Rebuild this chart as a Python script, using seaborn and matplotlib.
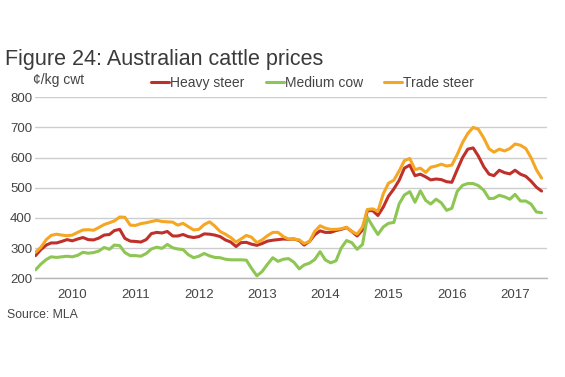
import pandas as pd
import matplotlib
matplotlib.use("Agg")
import matplotlib.pyplot as plt
import seaborn as sns

sns.set_theme(style="white")
plt.rcParams["font.family"] = ["Liberation Sans", "DejaVu Sans"]

# monthly prices, c/kg cwt
months = pd.date_range("2009-12-01", periods=97, freq="MS")
heavy_steer = [275, 295, 310, 317, 317, 322, 328, 324, 330, 335,
               328, 327, 333, 343, 345, 358, 362, 332, 323, 322,
               320, 328, 348, 352, 350, 355, 340, 340, 345, 338,
               335, 338, 347, 346, 343, 338, 327, 320, 305, 318,
               319, 313, 309, 315, 323, 326, 328, 330, 329, 330,
               325, 310, 322, 344, 357, 352, 352, 358, 362, 368,
               355, 340, 360, 424, 424, 408, 436, 472, 496, 525,
               565, 575, 540, 545, 536, 526, 529, 527, 520, 518,
               560, 600, 628, 632, 605, 570, 545, 540, 558, 550,
               546, 558, 545, 538, 522, 502, 489]
medium_cow = [228, 247, 262, 271, 269, 271, 273, 271, 276, 286,
              283, 285, 290, 302, 296, 310, 308, 285, 275, 275,
              273, 282, 297, 303, 299, 312, 301, 297, 295, 278,
              268, 273, 282, 274, 269, 268, 263, 261, 261, 261,
              260, 233, 208, 222, 246, 268, 256, 263, 265, 253,
              231, 244, 250, 262, 288, 261, 251, 258, 300, 325,
              318, 296, 312, 402, 372, 345, 370, 382, 385, 447,
              476, 487, 452, 490, 458, 446, 462, 450, 425, 432,
              488, 508, 514, 514, 507, 492, 464, 465, 475, 470,
              462, 478, 456, 456, 446, 420, 417]
trade_steer = [286, 303, 328, 342, 346, 343, 341, 343, 352, 360,
               361, 359, 368, 378, 384, 390, 403, 402, 376, 375,
               381, 384, 388, 392, 388, 387, 386, 376, 382, 371,
               360, 362, 378, 387, 373, 355, 346, 335, 320, 330,
               342, 336, 318, 327, 341, 352, 352, 338, 330, 330,
               327, 315, 322, 355, 374, 366, 362, 362, 364, 369,
               355, 346, 370, 428, 430, 422, 480, 515, 525, 556,
               590, 597, 560, 565, 551, 568, 572, 578, 572, 575,
               610, 650, 680, 700, 694, 665, 629, 618, 628, 622,
               630, 645, 641, 630, 600, 560, 532]

series_names = ["Heavy steer", "Medium cow", "Trade steer"]
series_colors = ["#C0302B", "#8DC653", "#F5A623"]
years = list(range(2010, 2018))
y_ticks = list(range(200, 801, 100))

df = pd.DataFrame({"month": months,
                   "Heavy steer": heavy_steer,
                   "Medium cow": medium_cow,
                   "Trade steer": trade_steer})
df = df.melt(id_vars="month", var_name="series", value_name="price")

fig = plt.figure(figsize=(5.65, 3.77), dpi=100)
ax = fig.add_axes([0.062, 0.262, 0.906, 0.480])

sns.lineplot(data=df, x="month", y="price", hue="series",
             hue_order=series_names, palette=series_colors,
             linewidth=2.2, estimator=None, errorbar=None, ax=ax)

ax.set_ylim(200, 800)
ax.set_yticks(y_ticks)
ax.set_xlim(pd.Timestamp("2009-11-28"), pd.Timestamp("2018-01-01"))
ax.set_xticks([pd.Timestamp(f"{y}-01-01") for y in years])
ax.set_xticklabels([])
ax.set_xticks([pd.Timestamp(f"{y}-07-01") for y in years], minor=True)
ax.set_xticklabels([str(y) for y in years], minor=True)
ax.set_xlabel("")
ax.set_ylabel("")

ax.grid(axis="y", color="#cdcdcd", linewidth=1.0)
ax.set_axisbelow(True)
for s in ["top", "right", "left"]:
    ax.spines[s].set_visible(False)
ax.spines["bottom"].set_color("#b5b5b5")
ax.spines["bottom"].set_linewidth(1.0)

ax.tick_params(axis="x", which="major", length=7, width=1, color="#a0a0a0")
ax.tick_params(axis="x", which="minor", length=0, pad=7.5,
               labelsize=9.5, labelcolor="#444444")
ax.tick_params(axis="y", length=0, pad=2, labelsize=9.5, labelcolor="#444444")

handles, labels = ax.get_legend_handles_labels()
ax.legend(handles, labels, ncol=3, frameon=False, fontsize=10,
          loc="center left", bbox_to_anchor=(0.2549, 0.7806),
          bbox_transform=fig.transFigure, borderpad=0,
          handlelength=1.3, handletextpad=0.1, columnspacing=1.5,
          labelcolor="#444444")

fig.text(0.009, 0.8276, "Figure 24: Australian cattle prices",
         fontsize=15.5, color="#3a3a3a", va="baseline")
fig.text(0.059, 0.7764, "¢/kg cwt", fontsize=10, color="#444444", va="baseline")
fig.text(0.012, 0.1565, "Source: MLA", fontsize=8.8, color="#444444", va="baseline")

fig.savefig("out.png", dpi=100)
plt.close(fig)
